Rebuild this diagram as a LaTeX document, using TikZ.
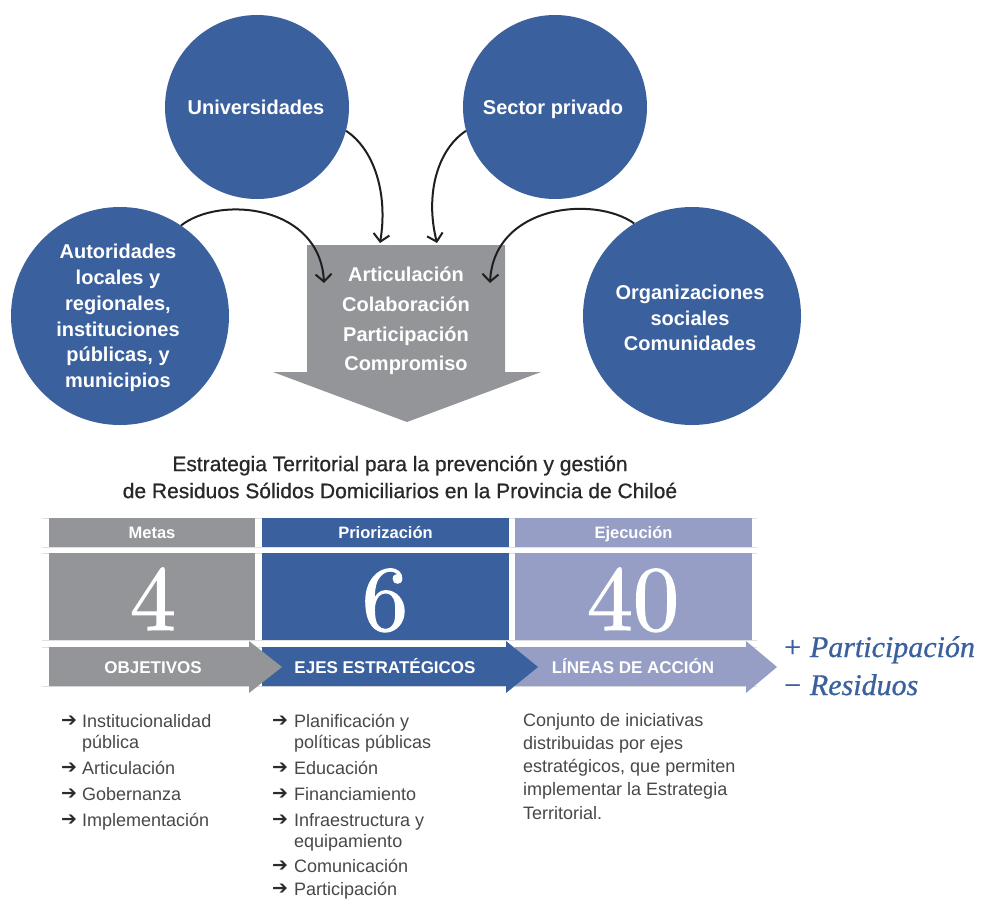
\documentclass[tikz,border=0pt]{standalone}
\usepackage{fontspec}
\newfontfamily\sans{Liberation Sans}
\newfontfamily\sansmed{Liberation Sans}[FakeBold=0.7]
\newfontfamily\dejavu{DejaVu Sans}
\newfontfamily\serifit{Liberation Serif}
\newfontfamily\numfont{lmroman10-regular.otf}[FakeBold=1.4]
\usetikzlibrary{arrows.meta}
\definecolor{cblue}{RGB}{58,96,158}
\definecolor{cgray}{RGB}{147,149,152}
\definecolor{cpurp}{RGB}{150,158,198}
\definecolor{ctext}{RGB}{72,72,72}
\definecolor{ctitle}{RGB}{40,40,40}
\tikzset{
 circ/.style={circle, fill=cblue, inner sep=0pt, minimum size=#1},
 ctxt/.style={text=white, inner sep=0pt, align=center, font=\sans\bfseries\fontsize{20}{25.8}\selectfont},
 conn/.style={draw=black!88, line width=2pt, -{Straight Barb[length=7.5pt,width=16pt,line width=2pt]}},
 hdr/.style={fill=#1, text=white, minimum height=29pt, inner sep=0pt, text height=11.8pt, text depth=0pt, font=\sans\bfseries\fontsize{16.5}{20}\selectfont},
 numbox/.style={fill=#1, minimum height=87pt, inner sep=0pt},
 num/.style={text=white, font=\numfont\fontsize{92}{92}\selectfont, inner sep=0pt, anchor=base},
 band/.style={text=white, inner sep=0pt, text height=12.2pt, text depth=0pt, font=\sans\bfseries\fontsize{17}{20}\selectfont},
 item/.style={anchor=base west, inner sep=0pt, text=ctext, font=\sans\fontsize{18}{22}\selectfont},
 bul/.style={anchor=center, inner sep=0pt, text=ctext!60!black, font=\dejavu\fontsize{19}{19}\selectfont},
 plus/.style={anchor=base west, inner sep=0pt, text=cblue, font=\serifit\itshape\addfontfeature{FakeBold=0.8}\fontsize{30}{36}\selectfont},
 faint/.style={draw=black!12, line width=0.7pt},
}
\begin{document}
\begin{tikzpicture}[x=1pt,y=-1pt]
\useasboundingbox (0,0) rectangle (981,900);
\fill[white] (0,0) rectangle (981,900);

% circles
\node[circ=184pt] (uni) at (257,107) {};
\node[circ=184pt] (priv) at (555,107) {};
\node[circ=218pt] (aut) at (120,316) {};
\node[circ=218pt] (org) at (692,316) {};
\node[ctxt, text height=14.3pt, text depth=0pt] (unit) at (256,107) {Universidades};
\node[ctxt, text height=14.3pt, text depth=0pt] (privt) at (553,107) {Sector privado};
\node[ctxt] (autt) at (118,318) {Autoridades\\locales y\\regionales,\\instituciones\\públicas, y\\municipios};
\node[ctxt] (orgt) at (690,318) {Organizaciones\\sociales\\Comunidades};

% big gray arrow
\path[fill=cgray] (307,245) -- (505,245) -- (505,372) -- (541,372) -- (407,422) -- (273,372) -- (307,372) -- cycle;
\node[ctxt, font=\sans\bfseries\fontsize{20}{29.7}\selectfont] (val) at (406,321) {Articulación\\Colaboración\\Participación\\Compromiso};

% connectors
\coordinate (e1) at (380,243);
\coordinate (e2) at (437,243);
\coordinate (e3) at (324,283);
\coordinate (e4) at (490,283);
\draw[conn] (uni.-15) .. controls (375,150) and (388,195) .. (e1);
\draw[conn] (priv.195) .. controls (437,150) and (425,195) .. (e2);
\draw[conn] (aut.56) .. controls (220,195) and (320,205) .. (e3);
\draw[conn] (org.122) .. controls (594,195) and (494,205) .. (e4);

% title
\node[font=\sansmed\fontsize{21}{27}\selectfont, text=ctitle, align=center, inner sep=0pt] (title) at (400,477) {Estrategia Territorial para la prevención y gestión\\de Residuos Sólidos Domiciliarios en la Provincia de Chiloé};

% faint table lines
\foreach \yy in {518,547,553,640,647,686} {\draw[faint] (42,\yy) -- (757,\yy);}

% headers
\node[hdr=cgray, minimum width=206pt] (hm) at (152,532.5) {Metas};
\node[hdr=cblue, minimum width=247pt] (hp) at (385.5,532.5) {Priorización};
\node[hdr=cpurp, minimum width=237pt] (he) at (633.5,532.5) {Ejecución};

% number boxes
\node[numbox=cgray, minimum width=206pt] (bm) at (152,596.5) {};
\node[numbox=cblue, minimum width=247pt] (bp) at (385.5,596.5) {};
\node[numbox=cpurp, minimum width=237pt] (be) at (633.5,596.5) {};
\node[num] (n4) at (153,630) {4};
\node[num] (n6) at (385,630) {6};
\node[num] (n40) at (633,630) {40};

% band arrows
\path[fill=cpurp] (515,647) -- (746,647) -- (746,641) -- (777,667) -- (746,693) -- (746,686) -- (515,686) -- cycle;
\path[fill=cblue] (262,647) -- (506,647) -- (506,641) -- (538,667) -- (506,693) -- (506,686) -- (262,686) -- cycle;
\path[fill=cgray] (49,647) -- (249,647) -- (249,641) -- (282,667) -- (249,693) -- (249,686) -- (49,686) -- cycle;
\node[band] (tobj) at (153,667) {OBJETIVOS};
\node[band] (teje) at (385,667) {EJES ESTRATÉGICOS};
\node[band] (tlin) at (633,667) {LÍNEAS DE ACCIÓN};

% right italic text
\node[plus] (pp) at (782,657) {+ Participación};
\node[plus] (mr) at (782,695) {− Residuos};

% list column 1
\node[bul] (b11) at (69,721) {➔}; \node[item] (i11) at (82,727) {Institucionalidad};
\node[item] (i11b) at (82,748) {pública};
\node[bul] (b12) at (69,768) {➔}; \node[item] (i12) at (82,774) {Articulación};
\node[bul] (b13) at (69,794) {➔}; \node[item] (i13) at (82,800) {Gobernanza};
\node[bul] (b14) at (69,820) {➔}; \node[item] (i14) at (82,826) {Implementación};

% list column 2
\node[bul] (b21) at (280,721) {➔}; \node[item] (i21) at (294,727) {Planificación y};
\node[item] (i21b) at (294,748) {políticas públicas};
\node[bul] (b22) at (280,768) {➔}; \node[item] (i22) at (294,774) {Educación};
\node[bul] (b23) at (280,794) {➔}; \node[item] (i23) at (294,800) {Financiamiento};
\node[bul] (b24) at (280,820) {➔}; \node[item] (i24) at (294,826) {Infraestructura y};
\node[item] (i24b) at (294,847) {equipamiento};
\node[bul] (b25) at (280,866) {➔}; \node[item] (i25) at (294,872) {Comunicación};
\node[bul] (b26) at (280,889.5) {➔}; \node[item] (i26) at (294,895.5) {Participación};

% column 3
\node[item] (c1) at (523,726) {Conjunto de iniciativas};
\node[item] (c2) at (523,749.3) {distribuidas por ejes};
\node[item] (c3) at (523,772.6) {estratégicos, que permiten};
\node[item] (c4) at (523,795.9) {implementar la Estrategia};
\node[item] (c5) at (523,819.2) {Territorial.};
\end{tikzpicture}
\end{document}
